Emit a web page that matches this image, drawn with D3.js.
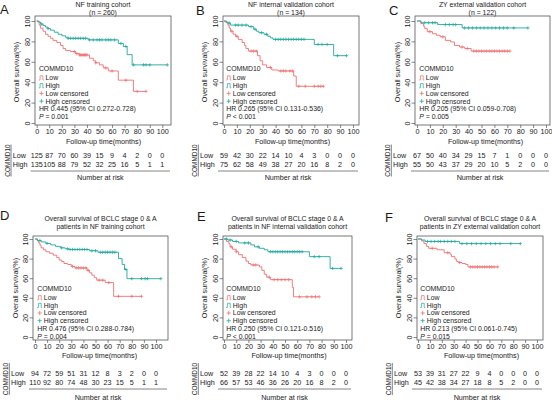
<!DOCTYPE html>
<html><head><meta charset="utf-8">
<script src="https://cdn.jsdelivr.net/npm/d3@7"></script>
<style>
body{margin:0;background:#fff}
svg{display:block}
text{font-family:"Liberation Sans",Arial,sans-serif;fill:#1a1a1a}
</style>
</head><body>
<svg id="chart" width="552" height="403"></svg>
<script>
// ---------- shared ----------
const xTicks = [0,10,20,30,40,50,60,70,80,90,100];
const yTicks = [0,20,40,60,80,100];
const groupName = "COMMD10";
const legendLabels = ["Low","High","Low censored","High censored"];
const rowLabels = ["Low","High"];
const colorLow = "#ef7070", colorHigh = "#1fa99d";

// ---------- A ----------
const titleA = ["NF training cohort","(n = 260)"];
const lowStepsA = [[0,100],[2,96],[3,93],[5,90],[7,87],[9,85],[11,83],[13,81],[16,79],[19,76],[21,73],[23,71],[27,70],[31,68],[34,66.7],[42,63.5],[45,61],[47,59],[50,57],[53,54],[57,51],[65,42],[77,31]];
const lowEndA = 87;
const highStepsA = [[0,100],[1,99],[3,97],[5,95.5],[7,94],[9,92.5],[11,91],[14,89],[17,87],[20,85.5],[23,84],[25,83],[41,81.5],[65,78],[69,75],[72,67],[76,57]];
const highEndA = 104;
const lowCensA = [30,32,34,35,36,37,38,39,40,47,55,60,71,80,87];
const highCensA = [4,9,25,27,29,31,33,35,37,39,42,45,48,50,52,55,57,59,62,67,71,77,85,87,90,104];
const riskLowA = [125,87,70,60,39,15,9,4,2,0,0];
const riskHighA = [135,105,88,79,52,32,25,16,5,1,1];
const hrA = "HR 0.445 (95% CI 0.272-0.728)", pA = "= 0.001";

// ---------- B ----------
const titleB = ["NF internal validation cohort","(n = 134)"];
const lowStepsB = [[0,100],[2,98],[3,96],[4,93],[5,90],[7,87],[9,85],[11,82],[14,79],[16,76],[17,73],[19,70.5],[26,66],[28,61],[30,57],[33,54.5],[37,52],[42,51],[54,46],[56,36]];
const lowEndB = 77;
const highStepsB = [[0,100],[1,99],[3,98],[5,96],[19,94.5],[23,92],[25,90],[27,88.5],[31,87],[34,85],[36,83.5],[38,82],[70,77],[85,66]];
const highEndB = 95;
const lowCensB = [6,10,21,23,25,36,44,46,48,51,53,58,63,70,73,75,77];
const highCensB = [4,9,11,14,17,21,24,29,33,40,42,44,46,48,50,52,54,56,58,60,62,73,76,80,88,95];
const riskLowB = [59,42,30,22,14,10,4,3,0,0,0];
const riskHighB = [75,62,58,49,38,27,20,16,8,2,0];
const hrB = "HR 0.265 (95% CI 0.131-0.536)", pB = "< 0.001";

// ---------- C ----------
const titleC = ["ZY external validation cohort","(n = 122)"];
const lowStepsC = [[0,100],[3,97.5],[5,95],[6,92.5],[8,89.5],[12,87.5],[15,86],[18,84.5],[22,81],[26,79.5],[29,76],[33,74.5],[37,73],[42,70.5]];
const lowEndC = 72;
const highStepsC = [[0,100],[3,98.3],[16,96.5],[35,93.2]];
const highEndC = 86;
const lowCensC = [10,20,35,39,44,46,48,50,52,54,56,58,60,62,64,66,68,70,72];
const highCensC = [6,9,12,14,22,25,28,30,37,40,43,46,49,52,55,58,61,64,67,70,75,86];
const riskLowC = [67,50,40,34,29,15,7,1,0,0,0];
const riskHighC = [55,50,43,37,29,20,10,5,2,0,0];
const hrC = "HR 0.205 (95% CI 0.059-0.708)", pC = "= 0.005";

// ---------- D ----------
const titleD = ["Overall survival of BCLC stage 0 & A","patients in NF training cohort"];
const lowStepsD = [[0,100],[2,98],[3,96],[4,94],[5,91],[7,89],[9,87],[12,85.5],[15,83.5],[18,81],[20,78.5],[22,77],[24,75],[27,74],[30,72],[33,70.5],[43,68],[45,65.5],[47,63],[49,60.5],[51,58],[58,55.5],[65,41.5]];
const lowEndD = 88;
const highStepsD = [[0,100],[2,98.5],[5,97],[9,95.5],[13,94],[17,92.5],[21,91],[25,90],[28,89.3],[45,88],[52,86.5],[69,80],[72,74],[74,69],[76,59.5]];
const highEndD = 104;
const lowCensD = [31,34,36,38,40,42,44,53,56,61,69,80,88];
const highCensD = [4,10,22,27,29,31,33,35,37,39,41,43,47,50,54,56,58,60,62,64,66,75,80,88,91,93,104];
const riskLowD = [94,72,59,51,31,12,8,3,2,0,0];
const riskHighD = [110,92,80,74,48,30,23,15,5,1,1];
const hrD = "HR 0.476 (95% CI 0.288-0.784)", pD = "= 0.004";

// ---------- E ----------
const titleE = ["Overall survival of BCLC stage 0 & A","patients in NF internal validation cohort"];
const lowStepsE = [[0,100],[2,97.5],[4,95],[5,92],[7,89.5],[10,87],[12,84],[15,81],[18,77.5],[20,75],[22,73.5],[29,71.5],[31,68],[33,64],[35,61],[38,58.5],[56,50.5],[57,41]];
const lowEndE = 78;
const highStepsE = [[0,100],[3,99],[7,97.5],[12,96],[22,94],[25,92],[29,90.5],[33,89],[36,87],[70,82],[87,70]];
const highEndE = 96;
const lowCensE = [6,10,24,26,37,41,44,47,50,53,62,68,72,75,78];
const highCensE = [2,5,10,17,20,28,38,40,42,44,46,48,50,52,54,56,58,60,62,64,74,78,89,96];
const riskLowE = [52,39,28,22,14,10,4,3,0,0,0];
const riskHighE = [66,57,53,46,36,26,20,16,8,2,0];
const hrE = "HR 0.250 (95% CI 0.121-0.516)", pE = "< 0.001";

// ---------- F ----------
const titleF = ["Overall survival of BCLC stage 0 & A","patients in ZY external validation cohort"];
const lowStepsF = [[0,100],[3,98],[5,95.5],[7,92.5],[9,90.5],[16,89],[22,86],[27,84.5],[28,82],[31,79.5],[32.5,77],[34,76],[37,75],[40,74],[42,71.5]];
const lowEndF = 67;
const highStepsF = [[0,100],[3,99],[6,97.5],[35,95.3]];
const highEndF = 86;
const lowCensF = [12,25,35,44,46,48,50,52,54,56,58,60,62,64,67];
const highCensF = [8,11,14,17,19,22,25,28,31,37,41,45,49,53,57,61,65,69,78,86];
const riskLowF = [53,39,31,27,22,9,4,0,0,0,0];
const riskHighF = [45,42,38,34,27,18,8,5,2,0,0];
const hrF = "HR 0.213 (95% CI 0.061-0.745)", pF = "= 0.015";

// ---------- layout (positions only) ----------
const topRow = {fT:16,fB:125,y100:21,y0:123,titleY:[4.4,12.4],tickLabY:131.8,axisTitleY:141,
  riskLowY:155,riskHighY:164,riskLineY:171,narY:177.5,legY:[68.8,77.8,85.6,93.4,101.2,109,116.8]};
const botRow = {fT:236,fB:340,y100:239,y0:337,titleY:[218.4,226.6],tickLabY:346.6,axisTitleY:355.6,
  riskLowY:373.3,riskHighY:382.7,riskLineY:389,narY:397.7,legY:[289,297.6,305.3,313,320.7,328.4,336.1]};

const panels = [
  {letter:"A",lx:0,ly:14,x0:36.7,x100:162.3,fL:35,fR:171,row:topRow,title:titleA,low:lowStepsA,lowEnd:lowEndA,high:highStepsA,highEnd:highEndA,lowCens:lowCensA,highCens:highCensA,rLow:riskLowA,rHigh:riskHighA,hr:hrA,p:pA},
  {letter:"B",lx:196,ly:15,x0:224,x100:353,fL:223,fR:359,row:topRow,title:titleB,low:lowStepsB,lowEnd:lowEndB,high:highStepsB,highEnd:highEndB,lowCens:lowCensB,highCens:highCensB,rLow:riskLowB,rHigh:riskHighB,hr:hrB,p:pB},
  {letter:"C",lx:389,ly:15,x0:417,x100:546,fL:415,fR:550,row:topRow,title:titleC,low:lowStepsC,lowEnd:lowEndC,high:highStepsC,highEnd:highEndC,lowCens:lowCensC,highCens:highCensC,rLow:riskLowC,rHigh:riskHighC,hr:hrC,p:pC},
  {letter:"D",lx:0,ly:220,x0:35,x100:156,fL:33,fR:168,row:botRow,title:titleD,low:lowStepsD,lowEnd:lowEndD,high:highStepsD,highEnd:highEndD,lowCens:lowCensD,highCens:highCensD,rLow:riskLowD,rHigh:riskHighD,hr:hrD,p:pD},
  {letter:"E",lx:197,ly:221,x0:224,x100:346,fL:223,fR:352,row:botRow,title:titleE,low:lowStepsE,lowEnd:lowEndE,high:highStepsE,highEnd:highEndE,lowCens:lowCensE,highCens:highCensE,rLow:riskLowE,rHigh:riskHighE,hr:hrE,p:pE},
  {letter:"F",lx:385,ly:222,x0:418,x100:537,fL:417,fR:543,row:botRow,title:titleF,low:lowStepsF,lowEnd:lowEndF,high:highStepsF,highEnd:highEndF,lowCens:lowCensF,highCens:highCensF,rLow:riskLowF,rHigh:riskHighF,hr:hrF,p:pF}
];

const FS = 7.2;           // ticks, axis titles, risk table
const LFS = 6.9;          // legend
const TFS = 6.9;          // titles
const bo = s => s * 0.36; // baseline offset from visual centre
const svg = d3.select("#chart");

function survAt(steps, t){ let s = 100; for (const [tt,v] of steps) if (tt <= t) s = v; return s; }

panels.forEach(P => {
  const R = P.row;
  const g = svg.append("g");
  const x = d3.scaleLinear().domain([0,100]).range([P.x0,P.x100]);
  const y = d3.scaleLinear().domain([0,100]).range([R.y0,R.y100]);
  const cx = (P.fL + P.fR)/2;

  // letter
  g.append("text").attr("x",P.lx).attr("y",P.ly).attr("font-size",13).text(P.letter);
  // title
  P.title.forEach((t,i) => g.append("text").attr("x",cx).attr("y",R.titleY[i]+bo(TFS))
    .attr("text-anchor","middle").attr("font-size",TFS).text(t));

  // frame
  g.append("rect").attr("x",P.fL).attr("y",R.fT).attr("width",P.fR-P.fL).attr("height",R.fB-R.fT)
    .attr("fill","none").attr("stroke","#555").attr("stroke-width",0.8);

  // x axis ticks
  const xa = g.append("g").attr("transform",`translate(0,${R.fB})`)
    .call(d3.axisBottom(x).tickValues(xTicks).tickSize(3).tickFormat(d3.format("d")));
  xa.select(".domain").remove();
  xa.selectAll("line").attr("stroke","#555").attr("stroke-width",0.7);
  xa.selectAll("text").attr("font-size",FS).attr("dy",null)
    .attr("y",R.tickLabY + bo(FS) - R.fB).attr("font-family","Liberation Sans, Arial, sans-serif").attr("fill","#1a1a1a");

  // y axis ticks
  const ya = g.append("g").attr("transform",`translate(${P.fL},0)`)
    .call(d3.axisLeft(y).tickValues(yTicks).tickSize(3.5).tickFormat(d3.format("d")));
  ya.select(".domain").remove();
  ya.selectAll("line").attr("stroke","#555").attr("stroke-width",0.7);
  ya.selectAll("text").attr("font-size",FS).attr("x",null).attr("dy",null)
    .attr("text-anchor","middle").attr("transform","translate(-5.2,0) rotate(-90)")
    .attr("font-family","Liberation Sans, Arial, sans-serif").attr("fill","#1a1a1a");

  // axis titles
  g.append("text").attr("transform",`translate(${P.x0-20+bo(FS)},${(R.y0+R.y100)/2}) rotate(-90)`)
    .attr("text-anchor","middle").attr("font-size",FS).text("Overall survival(%)");
  g.append("text").attr("x",(P.x0+P.x100)/2+4).attr("y",R.axisTitleY+bo(FS))
    .attr("text-anchor","middle").attr("font-size",FS).text("Follow-up time(months)");

  // curves
  const line = d3.line().x(d=>x(d[0])).y(d=>y(d[1])).curve(d3.curveStepAfter);
  const series = [
    {steps:P.low, end:P.lowEnd, cens:P.lowCens, color:colorLow},
    {steps:P.high, end:P.highEnd, cens:P.highCens, color:colorHigh}
  ];
  series.forEach(s => {
    const pts = s.steps.concat([[s.end, s.steps[s.steps.length-1][1]]]);
    g.append("path").datum(pts).attr("d",line).attr("fill","none")
      .attr("stroke",s.color).attr("stroke-width",0.9);
    g.selectAll(null).data(s.cens).join("path")
      .attr("d",d=>{const px=x(d), py=y(survAt(s.steps,d)); return `M${px-1.7},${py}H${px+1.7}M${px},${py-1.7}V${py+1.7}`;})
      .attr("stroke",s.color).attr("stroke-width",0.7).attr("fill","none");
  });

  // legend
  const lx = P.x0 + 2.2;
  const L = R.legY;
  g.append("text").attr("x",lx).attr("y",L[0]+bo(LFS)).attr("font-size",LFS).text(groupName);
  legendLabels.forEach((lab,i) => {
    const yy = L[i+1];
    const col = (i % 2 === 0) ? colorLow : colorHigh;
    if (i < 2) {
      g.append("path").attr("d",`M${lx},${yy+2.2}H${lx+1.2}V${yy-2}H${lx+4}V${yy+2.2}H${lx+5}`)
        .attr("fill","none").attr("stroke",col).attr("stroke-width",0.7);
    } else {
      g.append("path").attr("d",`M${lx+0.4},${yy}H${lx+4.6}M${lx+2.5},${yy-2.1}V${yy+2.1}`)
        .attr("fill","none").attr("stroke",col).attr("stroke-width",0.8);
    }
    g.append("text").attr("x",lx+6.6).attr("y",yy+bo(LFS)).attr("font-size",LFS).text(lab);
  });
  g.append("text").attr("x",lx).attr("y",L[5]+bo(LFS)).attr("font-size",LFS).text(P.hr);
  const pt = g.append("text").attr("x",lx).attr("y",L[6]+bo(LFS)).attr("font-size",LFS);
  pt.append("tspan").attr("font-style","italic").text("P");
  pt.append("tspan").text(" " + P.p);

  // risk table
  const rowsY = [R.riskLowY, R.riskHighY];
  [P.rLow, P.rHigh].forEach((vals,i) => {
    g.append("text").attr("x",P.x0-24).attr("y",rowsY[i]+bo(FS)).attr("font-size",FS).text(rowLabels[i]);
    g.selectAll(null).data(vals).join("text")
      .attr("x",(d,j)=>x(xTicks[j])).attr("y",rowsY[i]+bo(FS)).attr("text-anchor","middle")
      .attr("font-size",FS).text(d=>d);
  });
  const midRows = (R.riskLowY + R.riskHighY)/2 + 1;
  const cfs = FS*0.9;
  g.append("text").attr("transform",`translate(${P.x0-29+bo(cfs)},${midRows}) rotate(-90)`)
    .attr("text-anchor","middle").attr("font-size",cfs).text(groupName);
  g.append("line").attr("x1",P.x0-29+bo(cfs)+1).attr("x2",P.x0-29+bo(cfs)+1).attr("y1",midRows-16).attr("y2",midRows+16)
    .attr("stroke","#333").attr("stroke-width",0.6);
  g.append("line").attr("x1",P.x0-6).attr("x2",P.fR-1).attr("y1",R.riskLineY).attr("y2",R.riskLineY)
    .attr("stroke","#666").attr("stroke-width",0.8);
  g.append("text").attr("x",(P.x0-6+P.fR-1)/2).attr("y",R.narY+bo(FS)).attr("text-anchor","middle")
    .attr("font-size",FS).text("Number at risk");
});
</script>
</body></html>
